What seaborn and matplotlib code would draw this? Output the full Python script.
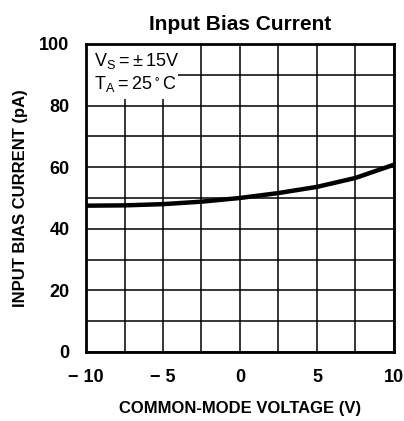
import numpy as np
import pandas as pd
import matplotlib
matplotlib.use('Agg')
import matplotlib.pyplot as plt
from matplotlib.patches import Rectangle
import seaborn as sns

# data
vcm = [-10, -7.5, -5, -2.5, 0, 2.5, 5, 7.5, 10]
ib_pa = [47.5, 47.6, 48.0, 48.8, 50.0, 51.6, 53.6, 56.5, 60.8]
x_ticks = [-10, -5, 0, 5, 10]
x_labels = ['\u2212 10', '\u2212 5', '0', '5', '10']
y_ticks = [0, 20, 40, 60, 80, 100]

df = pd.DataFrame({'vcm': vcm, 'ib': ib_pa})

sns.set_theme(style='white')
plt.rcParams['font.family'] = ['Liberation Sans', 'DejaVu Sans']
plt.rcParams['mathtext.fontset'] = 'custom'
plt.rcParams['mathtext.rm'] = 'Liberation Sans'
plt.rcParams['text.color'] = 'black'
plt.rcParams['axes.labelcolor'] = 'black'
plt.rcParams['xtick.color'] = 'black'
plt.rcParams['ytick.color'] = 'black'

fig = plt.figure(figsize=(4.04, 4.21), dpi=100)
ax = fig.add_axes([0.213, 0.164, 0.762, 0.7315])

sns.lineplot(data=df, x='vcm', y='ib', ax=ax, color='black', linewidth=3.2, zorder=5)

ax.set_xlim(-10, 10)
ax.set_ylim(0, 100)
ax.set_xticks(x_ticks)
ax.set_xticklabels(x_labels)
ax.set_xticks(np.arange(-10, 10.1, 2.5), minor=True)
ax.set_yticks(np.arange(0, 101, 10), minor=True)
ax.set_yticks(y_ticks)
ax.grid(True, which='both', color='black', linewidth=1.1)
ax.set_axisbelow(True)
ax.tick_params(which='both', length=0, labelsize=13)
ax.tick_params(axis='x', pad=12)
ax.tick_params(axis='y', pad=12)
for lab in ax.get_xticklabels() + ax.get_yticklabels():
    lab.set_fontweight('bold')
for s in ax.spines.values():
    s.set_color('black')
    s.set_linewidth(2)
    s.set_zorder(6)

ax.set_xlabel('COMMON-MODE VOLTAGE (V)', fontsize=12, fontweight='bold', labelpad=11)
ax.set_ylabel('INPUT BIAS CURRENT (pA)', fontsize=12, fontweight='bold', labelpad=8)
ax.set_title('Input Bias Current', fontsize=15, fontweight='bold', pad=10)

# white box behind the conditions text
ax.add_patch(Rectangle((-10, 82.0), 6.0, 18.0, facecolor='white', edgecolor='none', zorder=3))
ax.text(-9.5, 94.5, '$\\mathregular{V_S = \\pm\\,15V}$', ha='left', va='center',
        fontsize=13, zorder=4)
ax.text(-9.5, 87.0, '$\\mathregular{T_A = 25\\,{}^{\\circ}\\,C}$', ha='left', va='center',
        fontsize=13, zorder=4)

fig.savefig('out.png', dpi=100)
